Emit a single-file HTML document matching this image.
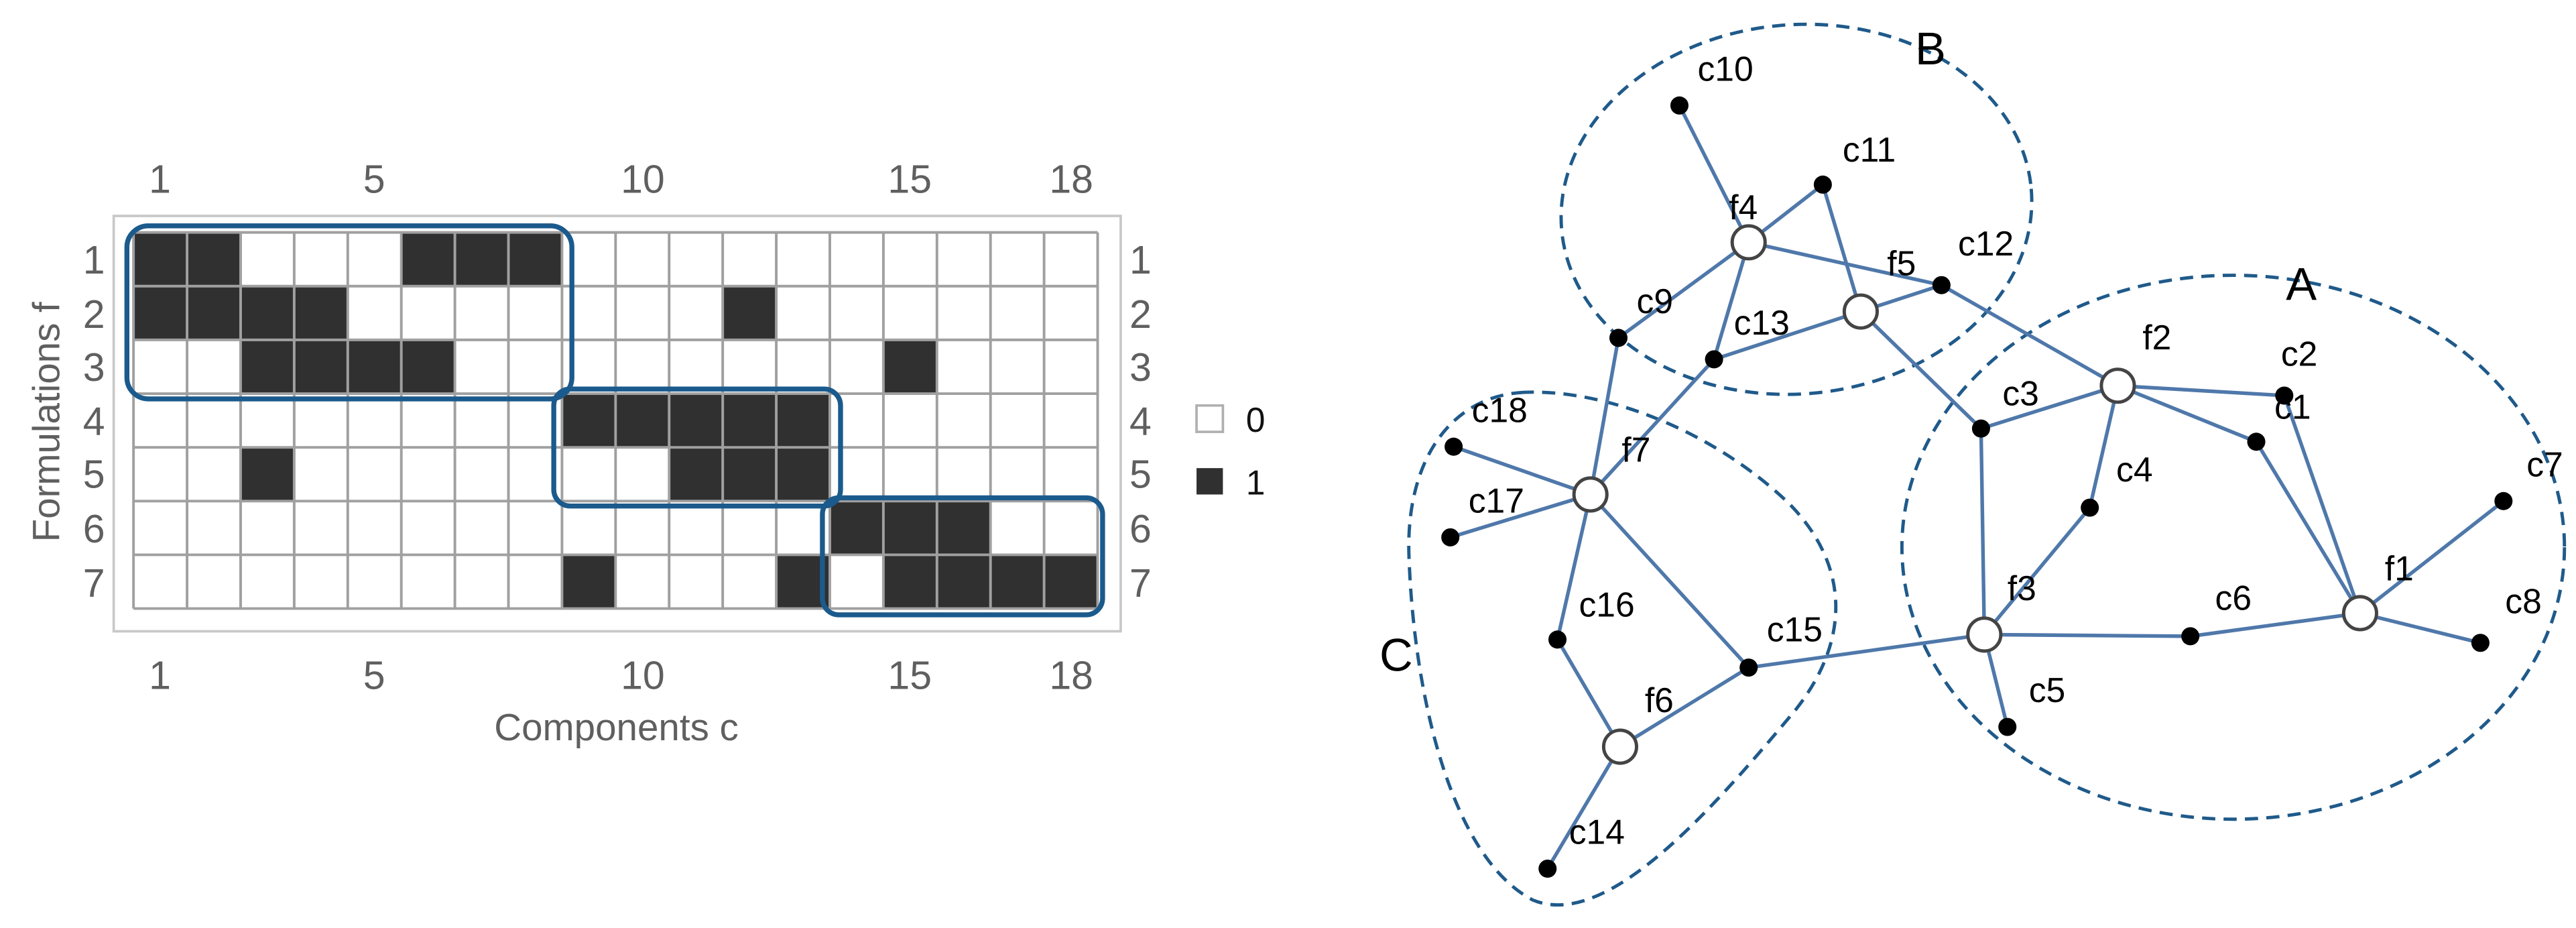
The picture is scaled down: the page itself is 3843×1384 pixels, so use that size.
<!DOCTYPE html>
<html><head><meta charset="utf-8"><style>
html,body{margin:0;padding:0;background:#fff;}
svg{display:block;}
text{font-family:"Liberation Sans",Arial,sans-serif;}
</style></head><body>
<svg width="3843" height="1384" viewBox="0 0 1563 563" preserveAspectRatio="none" xmlns="http://www.w3.org/2000/svg">
<rect width="1563" height="563" fill="#fff"/>
<rect x="69" y="131" width="611" height="252" fill="none" stroke="#c8c8c8" stroke-width="1.5"/>
<g fill="#303030">
<rect x="81" y="141" width="65" height="32.6"/><rect x="243.5" y="141" width="97.5" height="32.6"/>
<rect x="81" y="173.6" width="130" height="32.6"/><rect x="438.5" y="173.6" width="32.5" height="32.6"/>
<rect x="146" y="206.2" width="130" height="32.6"/><rect x="536" y="206.2" width="32.5" height="32.6"/>
<rect x="341" y="238.8" width="162.5" height="32.6"/>
<rect x="146" y="271.4" width="32.5" height="32.6"/><rect x="406" y="271.4" width="97.5" height="32.6"/>
<rect x="503.5" y="304" width="97.5" height="32.6"/>
<rect x="341" y="336.6" width="32.5" height="32.6"/><rect x="471" y="336.6" width="32.5" height="32.6"/><rect x="536" y="336.6" width="130" height="32.6"/>
</g>
<g stroke="#a0a0a0" stroke-width="1.6">
<line x1="81" y1="141" x2="81" y2="369.2"/><line x1="113.5" y1="141" x2="113.5" y2="369.2"/><line x1="146" y1="141" x2="146" y2="369.2"/><line x1="178.5" y1="141" x2="178.5" y2="369.2"/><line x1="211" y1="141" x2="211" y2="369.2"/><line x1="243.5" y1="141" x2="243.5" y2="369.2"/><line x1="276" y1="141" x2="276" y2="369.2"/><line x1="308.5" y1="141" x2="308.5" y2="369.2"/><line x1="341" y1="141" x2="341" y2="369.2"/><line x1="373.5" y1="141" x2="373.5" y2="369.2"/><line x1="406" y1="141" x2="406" y2="369.2"/><line x1="438.5" y1="141" x2="438.5" y2="369.2"/><line x1="471" y1="141" x2="471" y2="369.2"/><line x1="503.5" y1="141" x2="503.5" y2="369.2"/><line x1="536" y1="141" x2="536" y2="369.2"/><line x1="568.5" y1="141" x2="568.5" y2="369.2"/><line x1="601" y1="141" x2="601" y2="369.2"/><line x1="633.5" y1="141" x2="633.5" y2="369.2"/><line x1="666" y1="141" x2="666" y2="369.2"/>
<line x1="81" y1="141" x2="666" y2="141"/><line x1="81" y1="173.6" x2="666" y2="173.6"/><line x1="81" y1="206.2" x2="666" y2="206.2"/><line x1="81" y1="238.8" x2="666" y2="238.8"/><line x1="81" y1="271.4" x2="666" y2="271.4"/><line x1="81" y1="304" x2="666" y2="304"/><line x1="81" y1="336.6" x2="666" y2="336.6"/><line x1="81" y1="369.2" x2="666" y2="369.2"/>
</g>
<g fill="none" stroke="#1b5a8c" stroke-width="3">
<rect x="77" y="137" width="270" height="105" rx="13"/>
<rect x="336" y="236" width="174" height="71" rx="10"/>
<rect x="499" y="302" width="170" height="71" rx="10"/>
</g>
<g fill="#5f5f5f" font-size="24" text-anchor="middle">
<text x="97" y="117">1</text><text x="227" y="117">5</text><text x="390" y="117">10</text><text x="552" y="117">15</text><text x="650" y="117">18</text>
<text x="97" y="418">1</text><text x="227" y="418">5</text><text x="390" y="418">10</text><text x="552" y="418">15</text><text x="650" y="418">18</text>
<text x="57" y="166">1</text><text x="57" y="199">2</text><text x="57" y="231">3</text><text x="57" y="264">4</text><text x="57" y="296">5</text><text x="57" y="329">6</text><text x="57" y="362">7</text>
<text x="692" y="166">1</text><text x="692" y="199">2</text><text x="692" y="231">3</text><text x="692" y="264">4</text><text x="692" y="296">5</text><text x="692" y="329">6</text><text x="692" y="362">7</text>
<text x="374" y="449" font-size="23">Components c</text>
<text x="0" y="0" font-size="23" transform="translate(36,256) rotate(-90)">Formulations f</text>
</g>
<rect x="726" y="246" width="16" height="16" fill="#fff" stroke="#b0b0b0" stroke-width="1.5"/>
<rect x="726" y="284" width="16" height="16" fill="#303030"/>
<text x="756" y="262" font-size="21" fill="#111">0</text>
<text x="756" y="300" font-size="21" fill="#111">1</text>

<g fill="none" stroke="#1f5a8a" stroke-width="2" stroke-dasharray="8,5">
<ellipse cx="1355" cy="332" rx="201" ry="165"/>
<ellipse cx="1090" cy="127" rx="143" ry="112" transform="rotate(-5 1090 127)"/>
<path d="M925,238 C880,240 852,280 855,340 C858,420 880,520 930,546 C975,565 1040,490 1090,430 C1125,385 1120,340 1085,305 C1040,262 975,236 925,238 Z"/>
</g>
<g stroke="#4f78aa" stroke-width="2.2">
<line x1="1019" y1="64" x2="1061" y2="147"/><line x1="1061" y1="147" x2="1106" y2="112"/><line x1="1106" y1="112" x2="1129" y2="189"/>
<line x1="1061" y1="147" x2="982" y2="205"/><line x1="1061" y1="147" x2="1040" y2="218"/><line x1="1061" y1="147" x2="1178" y2="173"/>
<line x1="1129" y1="189" x2="1178" y2="173"/><line x1="1129" y1="189" x2="1040" y2="218"/><line x1="1129" y1="189" x2="1202" y2="260"/>
<line x1="1178" y1="173" x2="1285" y2="234"/><line x1="982" y1="205" x2="965" y2="300"/><line x1="1040" y1="218" x2="965" y2="300"/>
<line x1="1285" y1="234" x2="1202" y2="260"/><line x1="1285" y1="234" x2="1268" y2="308"/><line x1="1285" y1="234" x2="1386" y2="240"/><line x1="1285" y1="234" x2="1369" y2="268"/>
<line x1="1386" y1="240" x2="1432" y2="372"/><line x1="1369" y1="268" x2="1432" y2="372"/>
<line x1="1432" y1="372" x2="1519" y2="304"/><line x1="1432" y1="372" x2="1505" y2="390"/><line x1="1432" y1="372" x2="1329" y2="386"/>
<line x1="1329" y1="386" x2="1204" y2="385"/><line x1="1204" y1="385" x2="1202" y2="260"/><line x1="1204" y1="385" x2="1268" y2="308"/><line x1="1204" y1="385" x2="1218" y2="441"/><line x1="1204" y1="385" x2="1061" y2="405"/>
<line x1="1061" y1="405" x2="965" y2="300"/><line x1="1061" y1="405" x2="983" y2="453"/>
<line x1="965" y1="300" x2="882" y2="271"/><line x1="965" y1="300" x2="880" y2="326"/><line x1="965" y1="300" x2="945" y2="388"/>
<line x1="945" y1="388" x2="983" y2="453"/><line x1="983" y1="453" x2="939" y2="527"/>
</g>
<g fill="#000">
<circle cx="1019" cy="64" r="5.5"/><circle cx="1106" cy="112" r="5.5"/><circle cx="1178" cy="173" r="5.5"/><circle cx="982" cy="205" r="5.5"/><circle cx="1040" cy="218" r="5.5"/>
<circle cx="1202" cy="260" r="5.5"/><circle cx="1268" cy="308" r="5.5"/><circle cx="1386" cy="240" r="5.5"/><circle cx="1369" cy="268" r="5.5"/>
<circle cx="1519" cy="304" r="5.5"/><circle cx="1505" cy="390" r="5.5"/><circle cx="1329" cy="386" r="5.5"/><circle cx="1218" cy="441" r="5.5"/>
<circle cx="1061" cy="405" r="5.5"/><circle cx="882" cy="271" r="5.5"/><circle cx="880" cy="326" r="5.5"/><circle cx="945" cy="388" r="5.5"/><circle cx="939" cy="527" r="5.5"/>
</g>
<g fill="#fff" stroke="#444" stroke-width="2">
<circle cx="1061" cy="147" r="10"/><circle cx="1129" cy="189" r="10"/><circle cx="1285" cy="234" r="10"/><circle cx="1432" cy="372" r="10"/>
<circle cx="1204" cy="385" r="10"/><circle cx="965" cy="300" r="10"/><circle cx="983" cy="453" r="10"/>
</g>
<g fill="#000" font-size="21">
<text x="1030" y="49">c10</text><text x="1118" y="98">c11</text><text x="1049" y="133">f4</text><text x="1145" y="167">f5</text><text x="1188" y="155">c12</text>
<text x="993" y="190">c9</text><text x="1052" y="203">c13</text><text x="1300" y="212">f2</text><text x="1384" y="222">c2</text><text x="1380" y="254">c1</text>
<text x="1447" y="352">f1</text><text x="1533" y="289">c7</text><text x="1520" y="372">c8</text><text x="1215" y="246">c3</text><text x="1284" y="292">c4</text>
<text x="1218" y="364">f3</text><text x="1344" y="370">c6</text><text x="1231" y="426">c5</text><text x="1072" y="389">c15</text><text x="984" y="280">f7</text>
<text x="893" y="256">c18</text><text x="891" y="311">c17</text><text x="958" y="374">c16</text><text x="998" y="432">f6</text><text x="952" y="512">c14</text>
</g>
<g fill="#000" font-size="28">
<text x="1387" y="182">A</text><text x="1162" y="39">B</text><text x="837" y="407">C</text>
</g>
</svg>
</body></html>
